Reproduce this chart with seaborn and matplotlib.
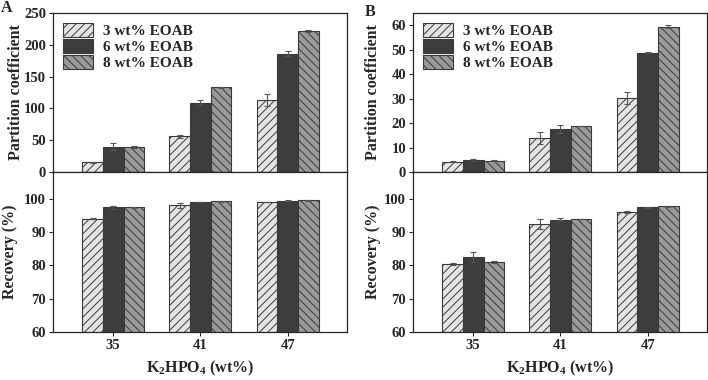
import numpy as np
import pandas as pd
import matplotlib
matplotlib.use("Agg")
import matplotlib.pyplot as plt
from matplotlib.patches import Patch
import seaborn as sns

sns.set_style("ticks")
plt.rcParams['font.family'] = ['Liberation Serif', 'DejaVu Serif']
plt.rcParams['font.weight'] = 'bold'
plt.rcParams['axes.labelweight'] = 'bold'
plt.rcParams['mathtext.fontset'] = 'custom'
plt.rcParams['mathtext.rm'] = 'Liberation Serif:bold'
plt.rcParams['mathtext.bf'] = 'Liberation Serif:bold'
plt.rcParams['hatch.linewidth'] = 0.7

# data
salt = ['35', '41', '47']
levels = ['3 wt% EOAB', '6 wt% EOAB', '8 wt% EOAB']

# panel A
a_pc = [[15, 56, 113], [40, 109, 186], [40, 133, 222]]
a_pc_err = [[0.5, 2.5, 9], [5, 4, 4], [1.5, 0.5, 1.5]]
a_rec = [[94.0, 98.0, 99.0], [97.4, 99.0, 99.4], [97.4, 99.2, 99.5]]
a_rec_err = [[0.1, 0.8, 0.1], [0.4, 0.1, 0.1], [0.1, 0.1, 0.1]]

# panel B
b_pc = [[4.1, 14.0, 30.3], [5.0, 17.6, 48.8], [4.7, 18.8, 59.3]]
b_pc_err = [[0.2, 2.4, 2.3], [0.5, 1.7, 0.2], [0.1, 0.1, 0.6]]
b_rec = [[80.4, 92.4, 96.0], [82.4, 93.7, 97.4], [81.0, 93.9, 97.7]]
b_rec_err = [[0.3, 1.4, 0.3], [1.5, 0.5, 0.1], [0.4, 0.1, 0.1]]

face = ['#e4e4e4', '#3d3d3d', '#9a9a9a']
hatches = ['////', '', '\\\\\\\\']
edge = '#3a3a3a'


def to_frame(vals):
    rows = []
    for lev, row in zip(levels, vals):
        for s, v in zip(salt, row):
            rows.append({'salt': s, 'level': lev, 'value': v})
    return pd.DataFrame(rows)


def draw_bars(ax, vals, errs):
    df = to_frame(vals)
    sns.barplot(data=df, x='salt', y='value', hue='level', hue_order=levels,
                order=salt, palette=face, width=0.71, errorbar=None,
                edgecolor=edge, linewidth=0.8, ax=ax, legend=False)
    for cont, h, err in zip(ax.containers, hatches, errs):
        xs, ys = [], []
        for bar in cont:
            bar.set_hatch(h)
            xs.append(bar.get_x() + bar.get_width() / 2)
            ys.append(bar.get_height())
        ax.errorbar(xs, ys, yerr=err, fmt='none', ecolor='#555555',
                    elinewidth=0.8, capsize=2.5, capthick=0.8)
    ax.set_xlim(-0.69, 2.68)
    ax.tick_params(direction='out', labelsize=10.5, width=0.8, length=3, pad=2)
    for sp in ax.spines.values():
        sp.set_visible(True)
        sp.set_linewidth(0.9)
    for lab in ax.get_yticklabels() + ax.get_xticklabels():
        lab.set_fontweight('bold')


fig = plt.figure(figsize=(7.08, 3.80), dpi=100)
W = 294 / 708
ax_a1 = fig.add_axes([53 / 708, 1 - 172 / 380, W, 159 / 380])
ax_a2 = fig.add_axes([53 / 708, 1 - 332 / 380, W, 160 / 380])
ax_b1 = fig.add_axes([413 / 708, 1 - 172 / 380, W, 159 / 380])
ax_b2 = fig.add_axes([413 / 708, 1 - 332 / 380, W, 160 / 380])

draw_bars(ax_a1, a_pc, a_pc_err)
draw_bars(ax_a2, a_rec, a_rec_err)
draw_bars(ax_b1, b_pc, b_pc_err)
draw_bars(ax_b2, b_rec, b_rec_err)

ax_a1.set_ylim(0, 250)
ax_a1.set_yticks([0, 50, 100, 150, 200, 250])
ax_b1.set_ylim(0, 65)
ax_b1.set_yticks([0, 10, 20, 30, 40, 50, 60])
for ax in (ax_a2, ax_b2):
    ax.set_ylim(60, 108)
    ax.set_yticks([60, 70, 80, 90, 100])

xlab = r'K$_{2}$HPO$_{4}$ (wt%)'
for ax in (ax_a1, ax_b1):
    ax.set_xlabel('')
    ax.tick_params(axis='x', labelbottom=False, length=0)
    ax.set_ylabel('Partition coefficient', fontsize=11.5, fontweight='bold')
    handles = [Patch(facecolor=f, edgecolor=edge, hatch=h, linewidth=0.8)
               for f, h in zip(face, hatches)]
    ax.legend(handles, levels, loc='upper left', frameon=False,
              prop={'weight': 'bold', 'size': 11}, handlelength=2.0,
              handleheight=1.05, labelspacing=0.05, borderaxespad=0.25,
              handletextpad=0.6, bbox_to_anchor=(0.0, 1.0))
for ax in (ax_a2, ax_b2):
    ax.set_xlabel(xlab, fontsize=11.5, fontweight='bold', labelpad=5)
    ax.set_ylabel('Recovery (%)', fontsize=11.5, fontweight='bold')

ax_a1.yaxis.set_label_coords(-0.10, 0.5)
ax_a2.yaxis.set_label_coords(-0.118, 0.5)
ax_b1.yaxis.set_label_coords(-0.108, 0.5)
ax_b2.yaxis.set_label_coords(-0.108, 0.5)

fig.text(7 / 708, 1 - 8 / 380, 'A', fontsize=11.5, fontweight='bold',
         ha='center', va='center')
fig.text(370 / 708, 1 - 12 / 380, 'B', fontsize=11.5, fontweight='bold',
         ha='center', va='center')

fig.savefig('out.png', dpi=100)
